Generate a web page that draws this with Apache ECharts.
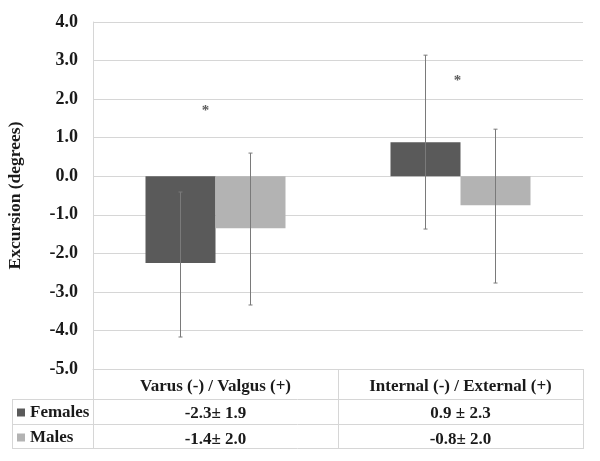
<!DOCTYPE html>
<html>
<head>
<meta charset="utf-8">
<script src="https://cdn.jsdelivr.net/npm/echarts@6/dist/echarts.min.js"></script>
<style>
html,body{margin:0;padding:0;background:#fff;}
#c{width:600px;height:461px;}
</style>
</head>
<body>
<div id="c"></div>
<script>
// ---- data ----
const categories = ['Varus (-) / Valgus (+)', 'Internal (-) / External (+)'];
const seriesNames = ['Females', 'Males'];
const femalesMean = [-2.25, 0.88];
const malesMean = [-1.35, -0.75];
const femalesLow = [-4.17, -1.37];
const femalesHigh = [-0.41, 3.14];
const malesLow = [-3.34, -2.77];
const malesHigh = [0.6, 1.22];
const femalesTable = ['-2.3\u00b1 1.9', '0.9 \u00b1 2.3'];
const malesTable = ['-1.4\u00b1 2.0', '-0.8\u00b1 2.0'];
const sigMarkY = [1.76, 2.54];
const yTicks = [-5, -4, -3, -2, -1, 0, 1, 2, 3, 4];

// ---- styles ----
const FONT = "'Liberation Serif', 'DejaVu Serif', serif";
const TXT = '#1a1a1a';
const GRID = '#d6d6d6';
const BAR_W = 70;
const colors = ['#5a5a5a', '#b3b3b3'];

const chart = echarts.init(document.getElementById('c'), null, {renderer: 'canvas'});

function errSeries(idx, low, high) {
  const shift = (idx === 0 ? -1 : 1) * BAR_W / 2;
  return {
    type: 'custom',
    name: seriesNames[idx] + ' err',
    z: 5,
    silent: true,
    data: categories.map((c, i) => [i, low[i], high[i]]),
    encode: {x: 0, y: [1, 2]},
    renderItem: function (params, api) {
      const x = api.value(0);
      const lo = api.coord([x, api.value(1)]);
      const hi = api.coord([x, api.value(2)]);
      const px = lo[0] + shift;
      const cap = 2;
      const st = {stroke: '#7a7a7a', lineWidth: 1};
      return {
        type: 'group',
        children: [
          {type: 'line', shape: {x1: px, y1: hi[1], x2: px, y2: lo[1]}, style: st},
          {type: 'line', shape: {x1: px - cap, y1: hi[1], x2: px + cap, y2: hi[1]}, style: st},
          {type: 'line', shape: {x1: px - cap, y1: lo[1], x2: px + cap, y2: lo[1]}, style: st}
        ]
      };
    }
  };
}

const option = {
  animation: false,
  backgroundColor: '#fff',
  grid: {left: 93, right: 17, top: 22, bottom: 92, containLabel: false, outerBoundsMode: 'none'},
  legend: {
    data: seriesNames,
    orient: 'vertical',
    left: 17,
    top: 404,
    padding: 0,
    itemWidth: 8,
    itemHeight: 8,
    itemGap: 8,
    icon: 'rect',
    textStyle: {fontFamily: FONT, fontWeight: 'bold', fontSize: 17, color: TXT, lineHeight: 17, padding: [0, 0, 0, 0]}
  },
  xAxis: [{
    type: 'category',
    data: categories,
    axisLine: {show: true, onZero: false, lineStyle: {color: GRID, width: 1}},
    axisTick: {show: true, alignWithLabel: false, length: 80, lineStyle: {color: GRID, width: 1}},
    axisLabel: {
      margin: 3,
      interval: 0,
      formatter: function (v, i) {
        return '{h|' + v + '}\n{v|' + femalesTable[i] + '}\n{v|' + malesTable[i] + '}';
      },
      rich: {
        h: {fontFamily: FONT, fontWeight: 'bold', fontSize: 17, color: TXT, lineHeight: 29, height: 29},
        v: {fontFamily: FONT, fontWeight: 'bold', fontSize: 17, color: TXT, lineHeight: 25.5, height: 25.5}
      }
    },
    splitLine: {show: false}
  }],
  yAxis: {
    type: 'value',
    min: -5,
    max: 4,
    interval: 1,
    name: 'Excursion (degrees)',
    nameLocation: 'middle',
    nameRotate: 90,
    nameGap: 69,
    nameTextStyle: {fontFamily: FONT, fontWeight: 'bold', fontSize: 17.5, color: TXT},
    axisLine: {show: true, lineStyle: {color: GRID}},
    axisTick: {show: false},
    axisLabel: {
      margin: 15,
      fontFamily: FONT, fontWeight: 'bold', fontSize: 18, color: TXT,
      formatter: function (v) { return yTicks.indexOf(v) >= 0 ? v.toFixed(1) : ''; }
    },
    splitLine: {show: true, lineStyle: {color: GRID, width: 1}}
  },
  graphic: [
    {type: 'line', shape: {x1: 12, y1: 399.5, x2: 583, y2: 399.5}, style: {stroke: GRID, lineWidth: 1}},
    {type: 'line', shape: {x1: 12, y1: 424.5, x2: 583, y2: 424.5}, style: {stroke: GRID, lineWidth: 1}},
    {type: 'line', shape: {x1: 12, y1: 448.5, x2: 583, y2: 448.5}, style: {stroke: GRID, lineWidth: 1}},
    {type: 'line', shape: {x1: 12.5, y1: 399, x2: 12.5, y2: 449}, style: {stroke: GRID, lineWidth: 1}}
  ],
  series: [
    {
      name: seriesNames[0], type: 'bar', data: femalesMean, barWidth: BAR_W, barGap: '0%',
      itemStyle: {color: colors[0]}
    },
    {
      name: seriesNames[1], type: 'bar', data: malesMean, barWidth: BAR_W, barGap: '0%',
      itemStyle: {color: colors[1]}
    },
    errSeries(0, femalesLow, femalesHigh),
    errSeries(1, malesLow, malesHigh),
    {
      type: 'scatter',
      name: 'sig',
      data: sigMarkY.map((y, i) => [i, y]),
      symbolSize: 1,
      itemStyle: {color: 'rgba(0,0,0,0)'},
      label: {
        show: true, position: 'inside', formatter: '*',
        fontFamily: FONT, fontWeight: 'bold', fontSize: 15, color: '#333',
        offset: [0, 3]
      },
      silent: true
    }
  ]
};
// per-point horizontal offsets of the significance marks
option.series[4].data = sigMarkY.map((y, i) => ({value: [i, y], label: {offset: [i === 0 ? -10 : -3, 3]}}));

chart.setOption(option);
</script>
</body>
</html>
